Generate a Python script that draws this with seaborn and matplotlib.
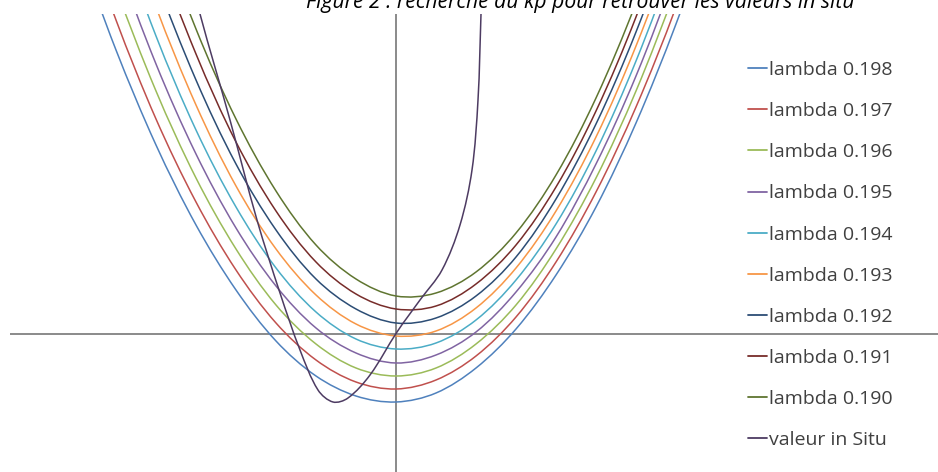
import matplotlib
matplotlib.use("Agg")
import matplotlib.pyplot as plt
from matplotlib.path import Path
from matplotlib.patches import PathPatch
import numpy as np
import pandas as pd
import seaborn as sns

# Abscissa grid shared by the lambda curves
x_grid = [-3.2, -2.8, -2.4, -2.0, -1.6, -1.2, -0.8, -0.4, 0.0,
          0.4, 0.8, 1.2, 1.6, 2.0, 2.4, 2.8, 3.2]

lambda_labels = ["lambda 0.198", "lambda 0.197", "lambda 0.196", "lambda 0.195",
                 "lambda 0.194", "lambda 0.193", "lambda 0.192", "lambda 0.191",
                 "lambda 0.190"]

y_l198 = [3.93, 2.84, 1.89, 1.09, 0.44, -0.07, -0.42, -0.62, -0.68,
          -0.59, -0.34, 0.05, 0.59, 1.27, 2.11, 3.10, 4.23]
y_l197 = [4.28, 3.14, 2.15, 1.32, 0.64, 0.11, -0.26, -0.48, -0.55,
          -0.46, -0.22, 0.17, 0.72, 1.42, 2.27, 3.27, 4.43]
y_l196 = [4.64, 3.46, 2.43, 1.56, 0.85, 0.29, -0.10, -0.34, -0.42,
          -0.34, -0.10, 0.29, 0.85, 1.56, 2.43, 3.46, 4.64]
y_l195 = [5.00, 3.77, 2.70, 1.80, 1.06, 0.48, 0.06, -0.19, -0.29,
          -0.21, 0.02, 0.42, 0.97, 1.70, 2.58, 3.63, 4.84]
y_l194 = [5.37, 4.09, 2.98, 2.04, 1.27, 0.66, 0.22, -0.05, -0.15,
          -0.09, 0.14, 0.54, 1.10, 1.83, 2.73, 3.80, 5.03]
y_l193 = [5.74, 4.42, 3.27, 2.29, 1.48, 0.85, 0.39, 0.10, -0.02,
          0.03, 0.26, 0.66, 1.23, 1.97, 2.88, 3.96, 5.22]
y_l192 = [6.11, 4.74, 3.55, 2.54, 1.70, 1.04, 0.55, 0.25, 0.11,
          0.16, 0.38, 0.77, 1.35, 2.10, 3.02, 4.12, 5.40]
y_l191 = [6.50, 5.08, 3.85, 2.80, 1.92, 1.23, 0.72, 0.40, 0.25,
          0.28, 0.50, 0.89, 1.47, 2.23, 3.17, 4.29, 5.59]
y_l190 = [6.88, 5.42, 4.14, 3.05, 2.15, 1.43, 0.89, 0.55, 0.38,
          0.41, 0.62, 1.01, 1.59, 2.36, 3.31, 4.44, 5.77]

lambda_values = [y_l198, y_l197, y_l196, y_l195, y_l194, y_l193, y_l192,
                 y_l191, y_l190]

# Measured (in situ) curve
insitu_label = "valeur in Situ"
x_insitu = [-2.01, -1.96, -1.66, -1.39, -1.16, -0.96, -0.78, -0.63, -0.48, -0.26,
            0.01, 0.24, 0.46, 0.64, 0.76, 0.82, 0.85, 0.86]
y_insitu = [3.44, 3.20, 2.14, 1.14, 0.41, -0.16, -0.56, -0.68, -0.64, -0.41,
            0.02, 0.34, 0.64, 1.09, 1.64, 2.34, 3.20, 3.54]

series_colors = ["#4F81BD", "#C0504D", "#9BBB59", "#8064A2", "#4BACC6",
                 "#F79646", "#2C4D75", "#772C2A", "#5F7530", "#4D3B62"]

title_text = "Figure 2 : recherche du kp pour retrouver les valeurs in situ"

# Long-form table for seaborn
frames = []
for label, vals in zip(lambda_labels, lambda_values):
    frames.append(pd.DataFrame({"x": x_grid, "y": vals, "serie": label}))
frames.append(pd.DataFrame({"x": x_insitu, "y": y_insitu, "serie": insitu_label}))
data = pd.concat(frames, ignore_index=True)

order = lambda_labels + [insitu_label]
palette = dict(zip(order, series_colors))

sns.set_theme(style="white")
plt.rcParams["font.family"] = ["Open Sans", "DejaVu Sans"]

W, H = 938, 472
fig = plt.figure(figsize=(W / 100, H / 100), dpi=100)
fig.patch.set_facecolor("white")
ax = fig.add_axes([10 / W, 0, 928 / W, 458 / H])
ax.set_facecolor("white")

# Axes crossing at the origin
ax.axhline(0, color="#8a8a8a", lw=1.4, zorder=1)
ax.axvline(0, color="#8a8a8a", lw=1.4, zorder=1)
n_before = len(ax.lines)

sns.lineplot(data=data, x="x", y="y", hue="serie", hue_order=order,
             palette=palette, estimator=None, sort=False, lw=1.1, ax=ax,
             zorder=2)

ax.set_xlim(-3.86, 5.42)
ax.set_ylim(-1.38, 3.20)
for s in ax.spines.values():
    s.set_visible(False)
ax.set_xticks([])
ax.set_yticks([])
ax.set_xlabel("")
ax.set_ylabel("")

leg = ax.legend(loc="upper left", bbox_to_anchor=(748 / W, 1 - 61 / H),
                bbox_transform=fig.transFigure, frameon=False,
                handlelength=1.0, handletextpad=0.1, labelspacing=1.19,
                borderpad=0, borderaxespad=0,
                prop={"family": "Open Sans", "size": 14})
for t in leg.get_texts():
    t.set_color("#404040")
for h in leg.get_lines():
    h.set_linewidth(1.3)


def smooth_path(xy):
    """Smoothed line: cubic Bezier through every point, chord-scaled tangents."""
    pts = np.asarray(xy, dtype=float)
    n = len(pts)
    seg = np.linalg.norm(np.diff(pts, axis=0), axis=1)
    tang = np.zeros_like(pts)
    for i in range(n):
        if i == 0:
            tang[i] = (pts[1] - pts[0]) / seg[0]
        elif i == n - 1:
            tang[i] = (pts[-1] - pts[-2]) / seg[-1]
        else:
            tang[i] = (pts[i + 1] - pts[i - 1]) / (seg[i - 1] + seg[i])
    verts = [pts[0]]
    codes = [Path.MOVETO]
    for i in range(n - 1):
        d = seg[i] / 3.0
        verts += [pts[i] + tang[i] * d, pts[i + 1] - tang[i + 1] * d, pts[i + 1]]
        codes += [Path.CURVE4] * 3
    return Path(verts, codes)


for line in ax.lines[n_before:]:
    xy = line.get_xydata()
    if len(xy) < 2:
        continue
    ax.add_patch(PathPatch(smooth_path(xy), fill=False,
                           edgecolor=line.get_color(),
                           lw=line.get_linewidth(), zorder=2,
                           capstyle="round", joinstyle="round"))
    line.set_visible(False)

fig.text(580 / W, 1 - 8 / H, title_text, ha="center", va="baseline",
         fontsize=15.2, fontstyle="italic", color="black", family="Open Sans")

fig.savefig("out.png", dpi=100, facecolor="white")
